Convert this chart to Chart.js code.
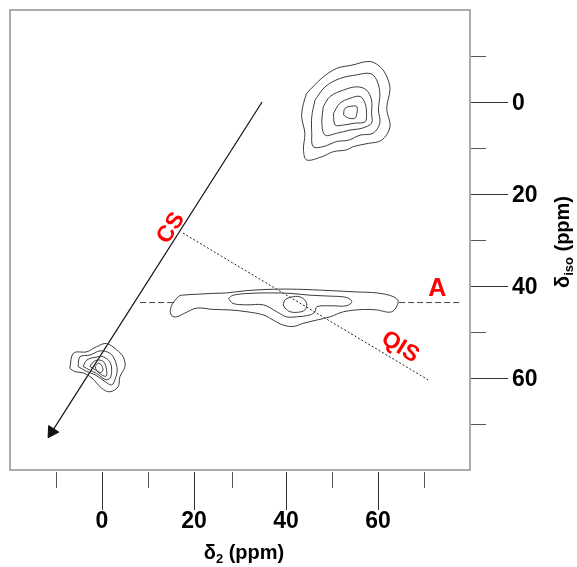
<!DOCTYPE html>
<html>
<head>
<meta charset="utf-8">
<title>2D MQMAS contour plot</title>
<script src="https://cdn.jsdelivr.net/npm/chart.js@4/dist/chart.umd.min.js"></script>
<style>
  html, body { margin: 0; padding: 0; background: #fff; }
  #wrap { width: 577px; height: 567px; }
</style>
</head>
<body>
<div id="wrap"><canvas id="c" width="577" height="567"></canvas></div>
<script>
// Axis ranges (ppm)
const xRange = [-20, 80];
const yRange = [-20, 80];

// Tick marks: labelled majors and unlabelled minors
const xMajor = [0, 20, 40, 60];
const xMinor = [-10, 10, 28.3, 50, 70];
const yMajor = [0, 20, 40, 60];
const yMinor = [-10, 10, 30, 50, 70];

// Site near (54, 2): five contour levels, outer to inner  [delta2, delta_iso]
const siteTop1 = [[44.5,-1.9],[47.8,-5.2],[51.0,-7.3],[54.3,-8.0],[58.3,-8.8],[60.8,-7.3],[62.2,-4.8],[62.6,-2.6],[61.9,1.4],[62.6,5.4],[60.8,8.3],[57.9,9.0],[54.6,9.7],[53.2,10.4],[50.3,10.8],[47.8,11.9],[44.5,12.6],[43.8,10.4],[44.1,6.8],[43.4,3.2],[43.8,0.3]];
const siteTop2 = [[46.3,-0.4],[48.5,-3.3],[51.7,-5.1],[55.4,-5.9],[58.3,-6.2],[59.7,-4.8],[60.4,-1.9],[60.1,1.7],[60.4,4.6],[58.9,6.8],[56.1,7.2],[53.6,8.3],[51.0,8.6],[48.1,9.7],[45.9,9.7],[45.6,6.8],[45.6,3.2]];
const siteTop3 = [[48.1,1.0],[49.6,-1.2],[52.5,-2.6],[55.4,-3.3],[57.5,-2.6],[58.6,-0.4],[58.6,2.5],[58.6,4.6],[56.5,5.7],[53.9,6.1],[51.0,6.8],[48.5,7.2],[47.8,4.6]];
const siteTop4 = [[50.3,2.5],[51.7,0.3],[53.9,-0.8],[56.1,-1.2],[57.2,0.3],[57.5,2.5],[57.2,4.3],[55.0,4.6],[52.5,5.0],[50.7,5.0]];
const siteTop5 = [[52.5,2.8],[52.8,1.4],[54.3,0.9],[55.4,1.0],[55.4,2.5],[55.0,3.5],[53.6,3.5]];

// Distributed site along the A line: three levels
const siteMid1 = [[14.8,45.6],[15.2,44.1],[16.6,42.3],[17.3,42.0],[20.6,41.8],[24.2,41.6],[27.1,41.5],[31.5,41.0],[37.2,40.7],[42.3,40.7],[49.6,41.0],[55.4,41.3],[59.7,41.5],[63.3,42.3],[64.4,43.4],[63.0,45.6],[59.7,45.2],[56.8,45.1],[52.5,45.6],[49.6,46.7],[46.7,47.4],[43.8,48.1],[41.6,48.8],[39.4,48.5],[37.2,47.4],[35.1,46.3],[31.5,45.6],[27.8,45.2],[24.2,45.1],[20.6,44.8],[18.0,45.9],[16.2,46.7],[15.2,46.5]];
const siteMid2 = [[27.5,42.7],[28.5,42.0],[32.2,41.6],[36.5,41.5],[40.9,41.6],[45.2,42.0],[49.6,42.2],[53.2,42.5],[54.3,43.4],[53.2,44.3],[49.6,44.3],[46.7,44.5],[46.3,45.6],[45.2,46.3],[42.3,46.7],[40.1,46.7],[38.0,45.6],[35.1,44.1],[31.5,44.1],[28.5,43.8]];
const siteMid3 = [[39.4,44.1],[39.8,43.0],[41.6,42.3],[43.4,42.5],[44.5,43.8],[44.1,45.2],[42.7,45.7],[40.9,45.6],[39.8,44.8]];

// Site near (0, 58): five levels
const siteLow1 = [[-7.0,57.9],[-6.2,54.6],[-3.3,54.3],[-1.2,53.2],[1.0,52.5],[3.2,53.9],[4.6,55.4],[5.0,57.5],[3.9,59.7],[3.5,61.9],[1.7,63.0],[-0.1,62.2],[-2.2,60.0],[-4.1,58.9],[-5.9,58.6]];
const siteLow2 = [[-5.2,57.5],[-4.8,55.4],[-2.6,55.0],[-0.4,54.1],[1.7,54.6],[2.8,56.1],[3.3,58.3],[2.8,60.4],[2.1,61.5],[0.7,60.8],[-1.5,59.3],[-3.3,58.6]];
const siteLow3 = [[-4.1,57.5],[-3.3,56.1],[-1.5,55.5],[0.3,55.4],[1.7,56.5],[2.1,58.3],[1.7,60.1],[0.7,60.3],[-1.2,59.0],[-2.6,58.3]];
const siteLow4 = [[-2.6,57.5],[-1.9,56.5],[-0.8,56.1],[0.4,56.5],[1.0,58.3],[0.9,59.6],[-0.1,59.3],[-1.2,58.4]];
const siteLow5 = [[-1.5,57.5],[-0.8,56.8],[-0.1,57.2],[0.2,58.3],[-0.3,58.8],[-1.2,58.3]];

// Reference lines
const csAxis = [[34.8, 0.0], [-10.9, 71.7]];
const qisAxis = [[17.6, 28.5], [70.9, 60.4]];
const aLineLeft = [[8.3, 43.6], [15.6, 43.6]];
const aLineRight = [[64.6, 43.6], [78.0, 43.6]];

// Line labels: text, position (ppm), rotation (deg), font size
const lineLabels = [
  { text: 'CS',  at: [15.0, 27.4], angle: -57.6, size: 23 },
  { text: 'QIS', at: [64.8, 53.3], angle: 32,    size: 23 },
  { text: 'A',   at: [72.9, 40.7], angle: 0,     size: 25 }
];

const FONT = '"Liberation Sans", Arial, Helvetica, sans-serif';

const pts = arr => arr.map(([x, y]) => ({ x, y }));
const loop = arr => pts(arr.concat([arr[0]]));

const contour = arr => ({
  data: loop(arr),
  showLine: true,
  borderColor: '#3c3c3c',
  borderWidth: 1,
  pointRadius: 0,
  tension: 0.35,
  fill: false
});

const datasets = [
  siteTop1, siteTop2, siteTop3, siteTop4, siteTop5,
  siteMid1, siteMid2, siteMid3,
  siteLow1, siteLow2, siteLow3, siteLow4, siteLow5
].map(contour);

datasets.push({
  data: pts(csAxis),
  showLine: true,
  borderColor: '#111',
  borderWidth: 1.2,
  pointRadius: [0, 7],
  pointStyle: 'triangle',
  rotation: 212.4,
  pointBackgroundColor: '#111',
  pointBorderColor: '#111',
  pointBorderWidth: 1,
  fill: false
});
datasets.push({
  data: pts(qisAxis),
  showLine: true,
  borderColor: '#222',
  borderWidth: 1,
  borderDash: [2, 2],
  pointRadius: 0,
  fill: false
});
[aLineLeft, aLineRight].forEach(seg => datasets.push({
  data: pts(seg),
  showLine: true,
  borderColor: '#444',
  borderWidth: 1,
  borderDash: [6, 3],
  pointRadius: 0,
  fill: false
}));

// Draws text with a subscript part: base, sub, rest; centred on x at baseline y
function subText(ctx, base, sub, rest, size, x, y) {
  const big = `bold ${size}px ${FONT}`;
  const small = `bold ${Math.round(size * 0.65)}px ${FONT}`;
  ctx.font = big; const w1 = ctx.measureText(base).width;
  const w3 = ctx.measureText(rest).width;
  ctx.font = small; const w2 = ctx.measureText(sub).width;
  let cx = x - (w1 + w2 + w3) / 2;
  ctx.textAlign = 'left';
  ctx.textBaseline = 'alphabetic';
  ctx.font = big; ctx.fillText(base, cx, y); cx += w1;
  ctx.font = small; ctx.fillText(sub, cx, y + size * 0.22); cx += w2;
  ctx.font = big; ctx.fillText(rest, cx, y);
}

const framePlugin = {
  id: 'frame',
  afterDraw(chart) {
    const { ctx, chartArea: a, scales: { x, y } } = chart;
    ctx.save();
    // plot frame
    ctx.strokeStyle = '#8f8f8f';
    ctx.lineWidth = 1.5;
    ctx.strokeRect(a.left, a.top, a.right - a.left, a.bottom - a.top);

    const seg = (x1, y1, x2, y2, col) => {
      ctx.strokeStyle = col; ctx.lineWidth = 1;
      ctx.beginPath(); ctx.moveTo(x1, y1); ctx.lineTo(x2, y2); ctx.stroke();
    };
    // bottom axis ticks
    xMajor.forEach(v => { const p = Math.round(x.getPixelForValue(v)) + 0.5; seg(p, a.bottom + 2, p, a.bottom + 40, '#333'); });
    xMinor.forEach(v => { const p = Math.round(x.getPixelForValue(v)) + 0.5; seg(p, a.bottom + 2, p, a.bottom + 18, '#555'); });
    // right axis ticks
    yMajor.forEach(v => { const p = Math.round(y.getPixelForValue(v)) + 0.5; seg(a.right + 1, p, a.right + 38, p, '#333'); });
    yMinor.forEach(v => { const p = Math.round(y.getPixelForValue(v)) + 0.5; seg(a.right + 1, p, a.right + 16, p, '#555'); });

    // axis titles
    ctx.fillStyle = '#000';
    subText(ctx, 'δ', '2', ' (ppm)', 20, 244, 559);
    ctx.save();
    ctx.translate(569, (a.top + a.bottom) / 2 + 2);
    ctx.rotate(-Math.PI / 2);
    subText(ctx, 'δ', 'iso', ' (ppm)', 20, 0, 0);
    ctx.restore();

    // red line labels
    ctx.fillStyle = '#ff0000';
    ctx.textAlign = 'center';
    ctx.textBaseline = 'middle';
    lineLabels.forEach(l => {
      ctx.save();
      ctx.translate(x.getPixelForValue(l.at[0]), y.getPixelForValue(l.at[1]));
      ctx.rotate(l.angle * Math.PI / 180);
      ctx.font = `bold ${l.size}px ${FONT}`;
      ctx.fillText(l.text, 0, 0);
      ctx.restore();
    });
    ctx.restore();
  }
};

const tickFont = { family: FONT, size: 23, weight: 'bold' };

// Fixed axis bands so the plot frame sits at the same place every time
const fixBand = size => s => {
  if (s.isHorizontal()) { s.height = size; s.paddingLeft = 0; s.paddingRight = 0; }
  else { s.width = size; s.paddingTop = 0; s.paddingBottom = 0; }
};

new Chart(document.getElementById('c'), {
  type: 'scatter',
  data: { datasets },
  options: {
    responsive: false,
    devicePixelRatio: 1,
    animation: false,
    layout: { padding: { left: 10, top: 10, right: 0, bottom: 0 } },
    plugins: { legend: { display: false }, tooltip: { enabled: false } },
    scales: {
      x: {
        type: 'linear', position: 'bottom',
        min: xRange[0], max: xRange[1],
        grid: { display: false, drawTicks: false },
        border: { display: false },
        afterBuildTicks: s => { s.ticks = xMajor.map(v => ({ value: v })); },
        afterFit: fixBand(97),
        ticks: { font: tickFont, color: '#000', padding: 38, maxRotation: 0, autoSkip: false }
      },
      y: {
        type: 'linear', position: 'right', reverse: true,
        min: yRange[0], max: yRange[1],
        grid: { display: false, drawTicks: false },
        border: { display: false },
        afterBuildTicks: s => { s.ticks = yMajor.map(v => ({ value: v })); },
        afterFit: fixBand(107),
        ticks: { font: tickFont, color: '#000', padding: 42, labelOffset: 2, autoSkip: false }
      }
    }
  },
  plugins: [framePlugin]
});
</script>
</body>
</html>
